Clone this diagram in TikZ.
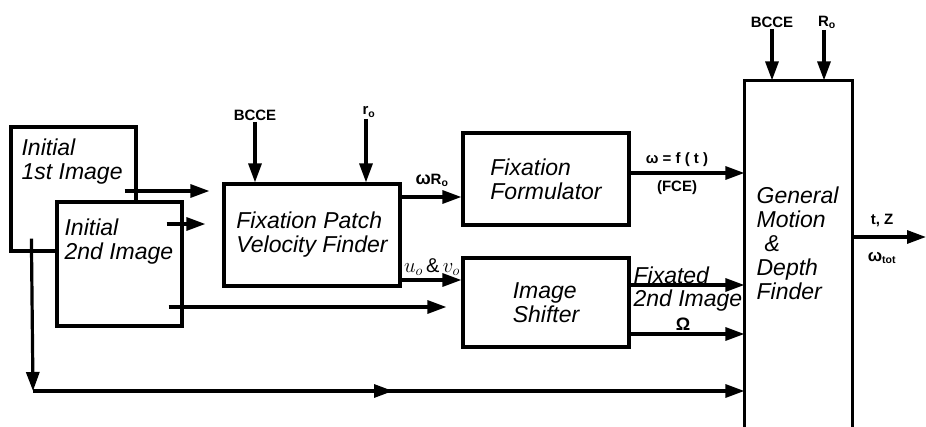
\documentclass[tikz,border=0pt]{standalone}
\usepackage{fontspec}
\setmainfont{Liberation Sans}
\usetikzlibrary{arrows.meta,positioning}

\tikzset{basic/.style={draw,line width=3.2pt,fill=white,inner sep=0pt}}
\tikzset{block/.style={basic,rectangle,font=\fontsize{23}{24}\selectfont\itshape,align=left}}
\tikzset{blocktext/.style={font=\fontsize{23}{24}\selectfont\itshape,align=left,inner sep=0pt}}
\tikzset{tag/.style={font=\fontsize{15}{16}\selectfont\bfseries,inner sep=0pt}}

\begin{document}
\begin{tikzpicture}[x=1pt,y=-1pt,line width=3.2pt,>={Triangle[length=19pt,width=13pt]}]
	\useasboundingbox (0,0) rectangle (926,426);

	% image inputs
	\node[basic,minimum width=125pt,minimum height=124pt] (first) at (73.5,189) {};
	\node[blocktext,anchor=north west] (firsttext) at (20,137) {Initial\\1st Image};
	\node[basic,minimum width=125pt,minimum height=124pt] (second) at (119.5,264) {};
	\node[blocktext,anchor=north west] (secondtext) at (63,217) {Initial\\2nd Image};

	% processing blocks
	\node[block,minimum width=176pt,minimum height=102pt] (patch) at (312,235) {Fixation Patch\\Velocity Finder};
	\node[block,minimum width=166pt,minimum height=92pt] (formulator) at (546,179) {Fixation\\Formulator};
	\node[block,minimum width=166pt,minimum height=89pt] (shifter) at (546,302.5) {Image\\Shifter};
	\node[minimum width=105pt,minimum height=344pt,inner sep=0pt] (motion) at (798.5,254) {};
	\draw (motion.south west) -- (motion.north west) -- (motion.north east) -- (motion.south east);
	\node[blocktext,anchor=north west] (motiontext) at (755,185) {General\\Motion\\\hspace{8pt}\&\\Depth\\Finder};

	% top inputs
	\node[tag] (bccepatch) at (255,115) {BCCE};
	    \path[draw,->] (bccepatch.south) -- (bccepatch.south |- patch.north);
	\node[tag] (rpatch) at (369,112) {r\textsubscript{o}};
	    \path[draw,->] ([xshift=-3pt]rpatch.south) -- ([xshift=-3pt]rpatch.south |- patch.north);
	\node[tag] (bccemotion) at (772,22) {BCCE};
	    \path[draw,->] (bccemotion.south) -- (bccemotion.south |- motion.north);
	\node[tag] (rmotion) at (827,22) {R\textsubscript{o}};
	    \path[draw,->] ([xshift=-3pt]rmotion.south) -- ([xshift=-3pt]rmotion.south |- motion.north);

	% image flows
	\path[draw,->] ([xshift=-13pt,yshift=-2pt]first.east) -- ([xshift=-13pt,yshift=-2pt]first.east -| patch.west);
	\path[draw,->] ([xshift=-17pt,yshift=40pt]second.east) -- ([xshift=-17pt,yshift=40pt]second.east -| patch.west);
	\path[draw,->] ([xshift=-15pt,yshift=-43pt]second.east) -- ([xshift=-15pt,yshift=-43pt]second.east -| shifter.west);
	\coordinate (corner) at (33,391);
	\coordinate (mid) at (393,391);
	\path[draw,->] ([xshift=22pt,yshift=14pt]first.south west) -- (corner);
	\path[draw,->] (corner) -- (corner -| motion.west);
	\path[draw,->] (corner) -- (mid);

	% velocity outputs
	\path[draw,->] ([yshift=38pt]patch.east) -- ([yshift=38pt]patch.east -| formulator.west);
	\node[tag] (omegaR) at (432,180) {{\fontsize{18}{18}\selectfont ω}R\textsubscript{o}};
	\path[draw,->] ([yshift=-45pt]patch.east) -- ([yshift=-45pt]patch.east -| shifter.west);
	\node[font=\fontsize{20}{20}\selectfont,inner sep=0pt] (uv) at (432,267) {$u_o$\,\&\,$v_o$};

	% into the motion finder
	\path[draw,->] ([yshift=6pt]formulator.east) -- ([yshift=6pt]formulator.east -| motion.west);
	\node[tag] (law) at (677,160) {ω = f ( t )};
	\node[tag] (fce) at (677,188) {(FCE)};
	\path[draw,->] ([yshift=17.5pt]shifter.east) -- ([yshift=17.5pt]shifter.east -| motion.west);
	\node[blocktext,anchor=base west] (fixated) at (632,283) {Fixated};
	\node[blocktext,anchor=base west] (secondimg) at (632,306) {2nd Image};
	\path[draw,->] ([yshift=-31.5pt]shifter.east) -- ([yshift=-31.5pt]shifter.east -| motion.west);
	\node[font=\fontsize{18}{18}\selectfont\bfseries,inner sep=0pt] (omega) at (683,324) {Ω};

	% result
	\coordinate (out) at (926,237);
	\path[draw,->] ([yshift=17pt]motion.east) -- (out);
	\node[tag] (tz) at (882,220) {t, Z};
	\node[tag] (omegatot) at (882,258) {{\fontsize{17}{17}\selectfont ω}\textsubscript{tot}};

\end{tikzpicture}
\end{document}
